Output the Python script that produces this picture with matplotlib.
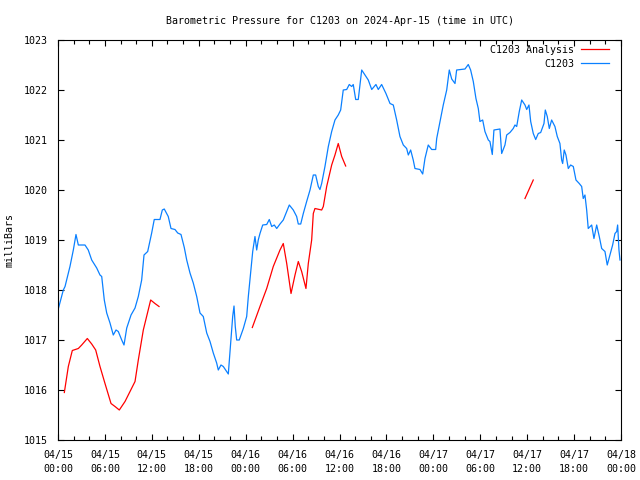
import numpy as np
import pandas as pd
import matplotlib
matplotlib.use('Agg')
import matplotlib.pyplot as plt
import matplotlib.dates as mdates

plt.rcParams['font.family'] = ['DejaVu Sans Mono']
plt.rcParams['font.size'] = 7.2

START = pd.Timestamp('2024-04-15 00:00')

# C1203 observations (hours after 04/15 00:00 UTC, mBar)
obs_hours = [0.0, 0.68, 0.9, 1.53, 1.96, 2.30, 2.60, 3.45, 3.87, 4.31, 4.95, 5.37, 5.59, 5.92,
             6.23, 6.65, 7.07, 7.42, 7.71, 8.15, 8.44, 8.79, 9.34, 9.85, 10.27, 10.70, 11.00,
             11.47, 11.98, 12.31, 13.04, 13.34, 13.59, 14.10, 14.45, 14.96, 15.31, 15.73, 16.15,
             16.46, 16.88, 17.30, 17.74, 18.16, 18.58, 19.02, 19.44, 19.86, 20.29, 20.50, 20.84,
             21.14, 21.44, 21.78, 22.08, 22.34, 22.51, 22.67, 22.85, 23.18, 23.70, 24.13, 24.34,
             24.55, 24.90, 25.19, 25.41, 25.61, 25.83, 26.18, 26.69, 27.02, 27.33, 27.66, 27.97,
             28.39, 28.81, 29.25, 29.58, 30.09, 30.52, 30.73, 31.04, 31.37, 31.80, 32.23, 32.65,
             32.95, 33.29, 33.50, 33.72, 34.14, 34.57, 35.00, 35.42, 35.84, 36.15, 36.48, 36.92,
             37.25, 37.56, 37.76, 38.07, 38.40, 38.62, 38.84, 39.26, 39.68, 40.12, 40.66, 40.96,
             41.39, 41.94, 42.46, 42.88, 43.31, 43.73, 44.16, 44.59, 44.80, 45.10, 45.43, 45.65,
             46.29, 46.64, 46.93, 47.35, 47.79, 48.30, 48.43, 48.85, 49.27, 49.71, 50.04, 50.35,
             50.77, 50.98, 52.05, 52.47, 52.77, 53.11, 53.45, 53.75, 53.96, 54.31, 54.60, 55.03,
             55.24, 55.54, 55.75, 56.52, 56.74, 57.16, 57.38, 57.80, 58.22, 58.44, 58.66, 58.99,
             59.30, 59.72, 59.94, 60.23, 60.45, 60.78, 61.09, 61.42, 61.73, 62.15, 62.32, 62.57,
             62.83, 63.13, 63.55, 63.85, 64.19, 64.41, 64.54, 64.74, 64.96, 65.26, 65.56, 65.90,
             66.24, 66.66, 66.97, 67.17, 67.39, 67.61, 67.81, 68.25, 68.54, 68.89, 69.22, 69.53,
             69.95, 70.24, 70.59, 70.93, 71.23, 71.45, 71.57, 71.74, 71.87]
obs_mbar = [1017.60, 1018.00, 1018.07, 1018.47, 1018.80, 1019.11, 1018.90, 1018.90, 1018.80,
            1018.60, 1018.44, 1018.30, 1018.27, 1017.80, 1017.54, 1017.34, 1017.10, 1017.20,
            1017.17, 1017.00, 1016.90, 1017.24, 1017.50, 1017.64, 1017.87, 1018.20, 1018.70,
            1018.77, 1019.14, 1019.41, 1019.41, 1019.60, 1019.62, 1019.47, 1019.23, 1019.21,
            1019.14, 1019.11, 1018.85, 1018.60, 1018.34, 1018.14, 1017.87, 1017.54, 1017.47,
            1017.14, 1016.97, 1016.74, 1016.54, 1016.40, 1016.50, 1016.47, 1016.40, 1016.32,
            1016.94, 1017.47, 1017.68, 1017.27, 1017.00, 1017.00, 1017.23, 1017.47, 1017.87,
            1018.20, 1018.77, 1019.07, 1018.80, 1019.00, 1019.13, 1019.30, 1019.31, 1019.41,
            1019.27, 1019.30, 1019.23, 1019.32, 1019.40, 1019.57, 1019.70, 1019.60, 1019.47,
            1019.32, 1019.32, 1019.53, 1019.77, 1020.00, 1020.30, 1020.30, 1020.07, 1020.01,
            1020.13, 1020.47, 1020.87, 1021.17, 1021.40, 1021.50, 1021.60, 1022.00, 1022.01,
            1022.11, 1022.07, 1022.11, 1021.81, 1021.81, 1022.11, 1022.40, 1022.30, 1022.20,
            1022.01, 1022.11, 1022.01, 1022.11, 1021.93, 1021.73, 1021.70, 1021.40, 1021.07,
            1020.90, 1020.83, 1020.70, 1020.80, 1020.60, 1020.43, 1020.41, 1020.32, 1020.63,
            1020.90, 1020.81, 1020.81, 1021.03, 1021.37, 1021.70, 1022.00, 1022.40, 1022.22,
            1022.13, 1022.40, 1022.42, 1022.51, 1022.40, 1022.17, 1021.83, 1021.63, 1021.37,
            1021.40, 1021.17, 1021.00, 1020.97, 1020.71, 1021.20, 1021.22, 1020.73, 1020.90,
            1021.10, 1021.15, 1021.23, 1021.30, 1021.27, 1021.57, 1021.80, 1021.70, 1021.61,
            1021.70, 1021.37, 1021.13, 1021.01, 1021.13, 1021.15, 1021.33, 1021.60, 1021.47,
            1021.23, 1021.40, 1021.27, 1021.07, 1020.93, 1020.60, 1020.53, 1020.80, 1020.70,
            1020.43, 1020.50, 1020.47, 1020.20, 1020.13, 1020.07, 1019.83, 1019.90, 1019.60,
            1019.23, 1019.30, 1019.03, 1019.30, 1019.07, 1018.83, 1018.77, 1018.50, 1018.70,
            1018.90, 1019.13, 1019.17, 1019.30, 1018.80, 1018.60]

# C1203 Analysis (NaN marks the gaps)
ana_hours = [0.81, 1.32, 1.83, 2.60, 3.03, 3.75, 4.31, 4.82, 5.37, 6.01, 6.78, 7.29, 7.84, 8.57,
             9.21, 9.85, 10.27, 10.91, 11.85, 12.40, 12.92, 18.0,
             24.85, 25.83, 26.69, 27.53, 28.39, 28.81, 29.25, 29.80, 30.31, 30.73, 31.16, 31.71,
             32.01, 32.44, 32.65, 32.86, 33.72, 33.93, 34.36, 35.00, 35.42, 35.84, 36.28, 36.79,
             48.0, 59.72, 60.78]
ana_mbar = [1015.95, 1016.47, 1016.79, 1016.83, 1016.90, 1017.03, 1016.92, 1016.80, 1016.47,
            1016.13, 1015.73, 1015.67, 1015.60, 1015.77, 1015.97, 1016.17, 1016.60, 1017.20,
            1017.80, 1017.73, 1017.67, np.nan,
            1017.25, 1017.67, 1018.03, 1018.47, 1018.80, 1018.93, 1018.53, 1017.93, 1018.30,
            1018.57, 1018.37, 1018.03, 1018.53, 1019.00, 1019.53, 1019.63, 1019.60, 1019.67,
            1020.07, 1020.50, 1020.70, 1020.93, 1020.67, 1020.48,
            np.nan, 1019.83, 1020.20]

obs_t = START + pd.to_timedelta(obs_hours, unit='h')
ana_t = START + pd.to_timedelta(ana_hours, unit='h')

fig = plt.figure(figsize=(6.4, 4.8), dpi=100)
ax = fig.add_axes([58 / 640, 40 / 480, 563 / 640, 400 / 480])

ax.plot(ana_t, ana_mbar, color='#ff0000', lw=0.9, label='C1203 Analysis')
ax.plot(obs_t, obs_mbar, color='#0a80ff', lw=0.9, label='C1203')

ax.set_xlim(START, START + pd.Timedelta(hours=72))
ax.set_ylim(1015, 1023)
ax.set_yticks(np.arange(1015, 1024, 1))
ax.xaxis.set_major_locator(mdates.HourLocator(byhour=range(0, 24, 6)))
ax.xaxis.set_minor_locator(mdates.HourLocator(byhour=range(0, 24, 2)))
ax.xaxis.set_major_formatter(mdates.DateFormatter('%m/%d\n%H:%M'))

ax.tick_params(which='both', direction='in', top=True, right=True, width=0.8)
ax.tick_params(which='major', length=4.5)
ax.tick_params(which='minor', length=3)
ax.tick_params(axis='x', which='major', pad=7.5)
ax.tick_params(axis='y', pad=7)
for t in ax.get_xticklabels():
    t.set_linespacing(1.45)
for s in ax.spines.values():
    s.set_linewidth(0.8)

ax.set_ylabel('milliBars', fontsize=7.2, labelpad=7)
ax.set_title('Barometric Pressure for C1203 on 2024-Apr-15 (time in UTC)', fontsize=7.2, pad=11.5)

leg = ax.legend(loc='upper right', bbox_to_anchor=(0.9858, 0.9975), borderaxespad=0,
                frameon=False, markerfirst=False, handlelength=2.8, fontsize=7.2,
                handletextpad=0.7, labelspacing=0.4)
for col in leg._legend_handle_box.get_children():
    col.align = 'right'

fig.savefig('out.png', dpi=100)
